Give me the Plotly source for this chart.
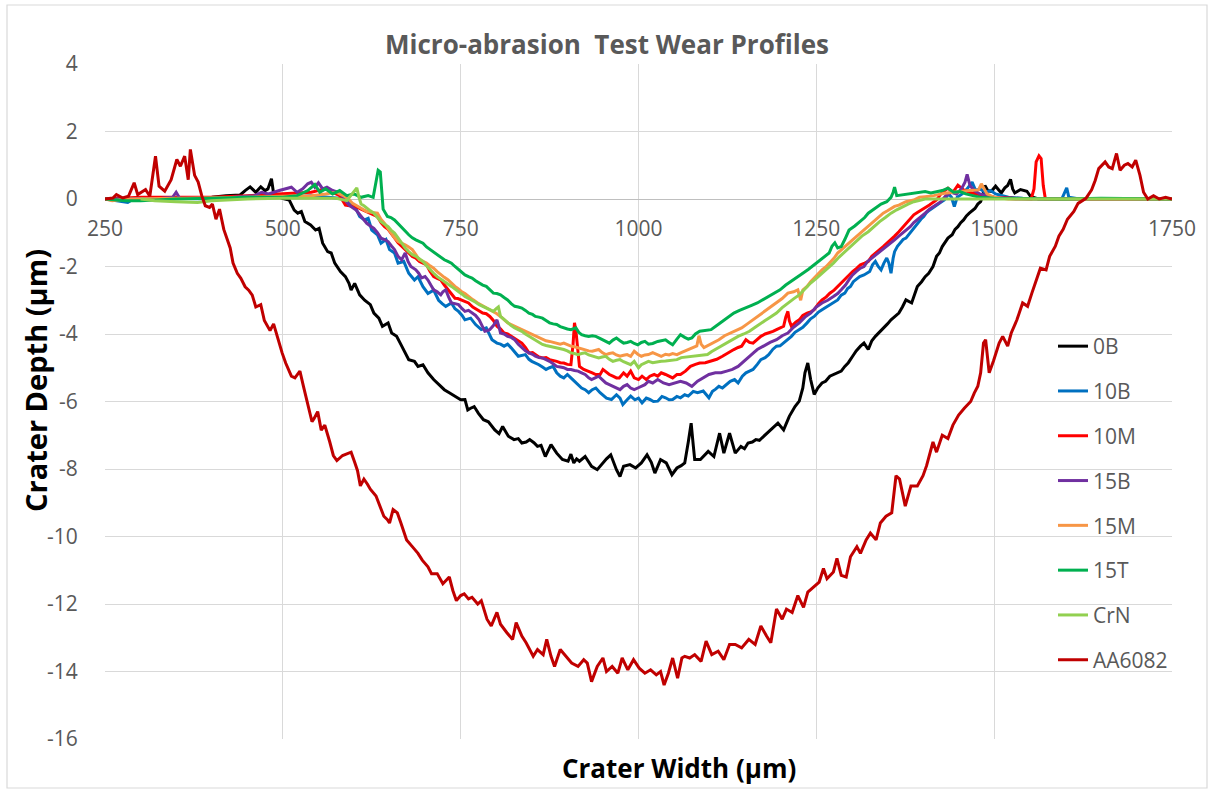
import plotly.graph_objects as go

# Micro-abrasion crater profiles: (width position in µm, depth in µm)
profile_0B = [
    (250, 0.0), (300, 0.02), (350, 0.05), (400, 0.05), (420, 0.1), (440, 0.12), (447, 0.25), (454, 0.36),
    (462, 0.2), (469, 0.36), (475, 0.25), (479, 0.3), (484, 0.6), (487, 0.17), (493, 0.1), (499, 0.02),
    (509, -0.03), (516, -0.33), (521, -0.42), (526, -0.37), (531, -0.67), (539, -0.77), (546, -0.92),
    (551, -0.87), (556, -1.31), (563, -1.56), (568, -1.6), (573, -1.9), (581, -2.15), (588, -2.3),
    (593, -2.5), (596, -2.7), (601, -2.5), (608, -2.84), (615, -3.0), (623, -3.13), (628, -3.38),
    (635, -3.53), (640, -3.77), (648, -3.67), (653, -3.97), (660, -4.07), (665, -4.27), (670, -4.46),
    (677, -4.76), (685, -4.81), (690, -4.96), (697, -4.91), (704, -5.15), (712, -5.35), (719, -5.5),
    (727, -5.65), (734, -5.74), (742, -5.84), (750, -5.95), (756, -5.94), (760, -6.25), (764, -6.2),
    (769, -6.15), (775, -6.35), (782, -6.54), (789, -6.6), (798, -6.84), (804, -6.95), (809, -6.74),
    (817, -7.03), (825, -7.13), (831, -7.1), (836, -7.23), (842, -7.2), (847, -7.13), (853, -7.22),
    (858, -7.33), (863, -7.3), (869, -7.63), (877, -7.28), (885, -7.53), (893, -7.72), (901, -7.77),
    (905, -7.56), (909, -7.82), (913, -7.7), (917, -7.77), (925, -7.63), (934, -7.92), (942, -8.02),
    (950, -7.82), (955, -7.7), (961, -7.58), (969, -8.02), (974, -8.22), (979, -7.92), (988, -7.87),
    (996, -7.97), (1004, -7.82), (1012, -7.58), (1018, -7.8), (1023, -8.12), (1031, -7.72), (1039, -7.82),
    (1047, -8.17), (1054, -7.97), (1060, -7.9), (1065, -7.82), (1070, -7.2), (1074, -6.64), (1077, -7.3),
    (1079, -7.72), (1087, -7.72), (1093, -7.6), (1098, -7.48), (1106, -7.63), (1114, -6.94), (1120, -7.53),
    (1128, -6.94), (1136, -7.53), (1144, -7.33), (1149, -7.4), (1154, -7.23), (1160, -7.2), (1165, -7.13),
    (1170, -7.15), (1176, -7.03), (1181, -6.95), (1187, -6.84), (1196, -6.64), (1204, -6.84), (1212, -6.44),
    (1220, -6.15), (1226, -5.99), (1231, -5.6), (1234, -5.15), (1238, -4.86), (1242, -5.35), (1247, -5.79),
    (1252, -5.6), (1258, -5.45), (1263, -5.4), (1269, -5.25), (1275, -5.2), (1280, -5.15), (1285, -5.1),
    (1290, -4.96), (1295, -4.85), (1301, -4.66), (1306, -4.5), (1312, -4.36), (1317, -4.27), (1323, -4.46),
    (1328, -4.2), (1333, -4.07), (1339, -3.95), (1344, -3.82), (1350, -3.7), (1355, -3.58), (1360, -3.5),
    (1366, -3.38), (1371, -3.2), (1376, -2.99), (1384, -3.08), (1388, -2.8), (1392, -2.59), (1398, -2.45),
    (1403, -2.3), (1408, -2.2), (1414, -2.0), (1419, -1.7), (1423, -1.6), (1427, -1.41), (1431, -1.3),
    (1435, -1.16), (1441, -1.06), (1445, -0.9), (1449, -0.82), (1453, -0.7), (1457, -0.62), (1461, -0.5),
    (1465, -0.42), (1469, -0.35), (1473, -0.28), (1477, -0.15), (1481, -0.08), (1484, 0.1), (1487, 0.4),
    (1491, 0.25), (1496, 0.23), (1502, 0.38), (1510, 0.18), (1515, 0.33), (1519, 0.4), (1523, 0.58),
    (1526, 0.3), (1529, 0.18), (1537, 0.28), (1546, 0.23), (1551, 0.08), (1562, 0.0), (1600, 0.0),
    (1650, 0.0), (1700, 0.0), (1750, 0.0),
]

profile_10B = [
    (250, 0.0), (270, -0.05), (282, -0.1), (290, 0.0), (350, 0.02), (400, 0.0), (450, 0.02), (500, 0.05),
    (540, 0.1), (570, 0.05), (590, 0.0), (598, -0.23), (603, -0.3), (608, -0.52), (615, -0.62), (620, -0.57),
    (625, -0.92), (633, -1.06), (638, -1.31), (645, -1.2), (650, -1.5), (657, -1.6), (662, -1.9), (670, -1.85),
    (677, -2.2), (685, -2.4), (690, -2.3), (697, -2.6), (704, -2.8), (712, -2.7), (719, -3.0), (724, -3.1),
    (729, -3.18), (737, -3.08), (742, -3.25), (747, -3.33), (752, -3.45), (756, -3.58), (764, -3.53),
    (771, -3.72), (779, -3.87), (786, -3.82), (790, -4.0), (794, -4.17), (801, -4.27), (806, -4.3),
    (811, -4.36), (816, -4.3), (821, -4.41), (826, -4.55), (831, -4.66), (841, -4.61), (846, -4.75),
    (850, -4.81), (855, -4.85), (860, -4.91), (865, -4.98), (870, -5.05), (875, -5.0), (880, -4.96),
    (885, -5.15), (890, -5.25), (895, -5.3), (900, -5.2), (905, -5.3), (910, -5.4), (915, -5.5), (920, -5.6),
    (925, -5.65), (930, -5.74), (935, -5.65), (940, -5.6), (946, -5.74), (950, -5.8), (955, -5.9),
    (962, -5.94), (969, -5.8), (974, -5.9), (978, -6.09), (984, -5.95), (989, -5.84), (995, -5.95),
    (1000, -5.9), (1005, -6.04), (1011, -5.9), (1016, -5.94), (1021, -6.0), (1027, -5.99), (1033, -5.85),
    (1038, -5.89), (1043, -5.95), (1048, -5.94), (1054, -5.85), (1059, -5.89), (1065, -5.8), (1070, -5.84),
    (1077, -5.7), (1083, -5.74), (1091, -5.69), (1099, -5.89), (1104, -5.7), (1108, -5.64), (1113, -5.55),
    (1118, -5.6), (1124, -5.5), (1129, -5.4), (1135, -5.35), (1140, -5.45), (1146, -5.25), (1151, -5.15),
    (1156, -5.1), (1161, -5.05), (1167, -4.9), (1172, -4.76), (1178, -4.7), (1183, -4.61), (1189, -4.45),
    (1194, -4.36), (1199, -4.35), (1204, -4.27), (1210, -4.15), (1215, -4.07), (1220, -3.95), (1226, -3.87),
    (1231, -3.8), (1237, -3.67), (1242, -3.55), (1247, -3.48), (1253, -3.35), (1258, -3.28), (1264, -3.2),
    (1269, -3.13), (1275, -3.05), (1280, -2.99), (1285, -2.85), (1290, -2.79), (1294, -2.65), (1298, -2.59),
    (1302, -2.45), (1306, -2.39), (1311, -2.3), (1317, -2.25), (1321, -2.2), (1325, -2.15), (1329, -1.95),
    (1333, -1.85), (1337, -2.0), (1341, -2.1), (1345, -1.9), (1349, -1.75), (1352, -1.9), (1355, -2.2),
    (1358, -1.75), (1360, -1.56), (1364, -1.4), (1368, -1.31), (1372, -1.2), (1376, -1.16), (1380, -1.05),
    (1384, -0.97), (1388, -0.85), (1392, -0.72), (1397, -0.6), (1401, -0.52), (1405, -0.4), (1409, -0.33),
    (1414, -0.25), (1419, -0.18), (1425, -0.1), (1430, -0.03), (1436, 0.15), (1440, 0.05), (1444, -0.22),
    (1448, 0.05), (1455, 0.15), (1462, 0.3), (1469, 0.5), (1474, 0.25), (1480, 0.3), (1487, 0.2),
    (1495, 0.25), (1502, 0.15), (1510, 0.1), (1520, 0.05), (1540, 0.02), (1560, 0.0), (1580, 0.0),
    (1595, 0.0), (1599, 0.2), (1602, 0.33), (1605, 0.05), (1620, 0.0), (1680, 0.0), (1750, 0.0),
]

profile_10M = [
    (250, 0.0), (300, 0.05), (350, 0.05), (400, 0.05), (450, 0.1), (500, 0.15), (540, 0.2), (560, 0.3),
    (570, 0.2), (580, 0.1), (588, -0.18), (603, -0.23), (610, -0.3), (618, -0.37), (625, -0.45), (633, -0.52),
    (638, -0.7), (643, -0.82), (648, -0.9), (652, -1.0), (657, -1.15), (662, -1.3), (667, -1.4), (672, -1.5),
    (677, -1.6), (682, -1.7), (687, -1.75), (692, -1.85), (697, -1.9), (702, -1.95), (707, -2.15), (712, -2.3),
    (717, -2.35), (722, -2.4), (727, -2.55), (732, -2.69), (737, -2.8), (742, -2.94), (746, -2.95),
    (751, -2.99), (756, -3.05), (761, -3.08), (767, -3.2), (774, -3.28), (781, -3.38), (786, -3.4),
    (791, -3.48), (796, -3.6), (801, -3.77), (806, -3.85), (811, -3.97), (816, -4.0), (821, -4.07),
    (826, -4.15), (831, -4.2), (836, -4.27), (841, -4.4), (846, -4.56), (851, -4.55), (855, -4.61),
    (860, -4.68), (865, -4.71), (870, -4.7), (875, -4.76), (880, -4.78), (885, -4.81), (890, -4.85),
    (895, -4.86), (900, -4.9), (905, -4.91), (908, -4.3), (910, -3.67), (912, -3.9), (914, -4.36),
    (917, -4.96), (923, -5.05), (930, -5.1), (935, -5.15), (940, -5.2), (946, -5.2), (950, -5.05),
    (955, -5.15), (959, -5.2), (964, -5.25), (969, -5.3), (973, -5.3), (979, -5.15), (984, -5.25),
    (989, -5.1), (994, -5.3), (1000, -5.35), (1005, -5.25), (1011, -5.35), (1016, -5.25), (1022, -5.2),
    (1027, -5.25), (1032, -5.15), (1038, -5.2), (1043, -5.25), (1048, -5.3), (1054, -5.2), (1059, -5.2),
    (1066, -5.1), (1073, -4.96), (1080, -4.9), (1086, -4.86), (1094, -4.85), (1102, -4.81), (1110, -4.75),
    (1118, -4.66), (1126, -4.55), (1134, -4.46), (1140, -4.4), (1145, -4.36), (1151, -4.17), (1156, -4.25),
    (1161, -4.27), (1167, -4.15), (1172, -4.07), (1178, -4.0), (1183, -3.97), (1189, -3.92), (1194, -3.87),
    (1199, -3.82), (1204, -3.77), (1207, -3.5), (1210, -3.33), (1212, -3.6), (1215, -3.77), (1221, -3.65),
    (1226, -3.58), (1231, -3.45), (1237, -3.38), (1242, -3.35), (1247, -3.28), (1253, -3.1), (1258, -2.99),
    (1264, -2.9), (1269, -2.79), (1275, -2.7), (1280, -2.59), (1285, -2.5), (1290, -2.39), (1296, -2.25),
    (1301, -2.15), (1307, -2.05), (1312, -1.95), (1318, -1.9), (1323, -1.85), (1328, -1.7), (1333, -1.6),
    (1339, -1.5), (1344, -1.41), (1350, -1.3), (1355, -1.21), (1360, -1.1), (1366, -0.97), (1371, -0.85),
    (1376, -0.72), (1382, -0.6), (1387, -0.47), (1392, -0.4), (1398, -0.33), (1403, -0.25), (1409, -0.18),
    (1414, -0.1), (1419, -0.03), (1425, 0.15), (1430, 0.25), (1435, 0.32), (1442, 0.2), (1449, 0.41),
    (1457, 0.27), (1465, 0.2), (1475, 0.15), (1485, 0.1), (1500, 0.05), (1530, 0.02), (1552, 0.0),
    (1556, 0.3), (1559, 1.1), (1563, 1.28), (1566, 1.2), (1569, 0.4), (1572, 0.0), (1600, 0.0),
    (1680, 0.0), (1750, 0.0),
]

profile_15B = [
    (250, 0.0), (330, 0.02), (345, 0.05), (350, 0.2), (355, 0.02), (400, 0.02), (430, 0.05), (460, 0.1),
    (470, 0.2), (480, 0.15), (495, 0.25), (505, 0.3), (512, 0.35), (520, 0.2), (528, 0.3), (535, 0.45),
    (540, 0.5), (545, 0.35), (550, 0.48), (556, 0.3), (562, 0.35), (570, 0.25), (578, 0.2), (585, 0.05),
    (593, -0.18), (603, -0.33), (610, -0.52), (618, -0.72), (623, -0.8), (628, -0.87), (633, -1.0),
    (638, -1.16), (643, -1.2), (648, -1.26), (653, -1.4), (657, -1.5), (662, -1.7), (667, -1.8), (672, -1.6),
    (676, -1.85), (680, -2.0), (684, -2.05), (687, -2.1), (691, -2.2), (695, -2.34), (700, -2.3), (704, -2.4),
    (708, -2.55), (712, -2.69), (717, -2.75), (722, -2.84), (725, -2.75), (729, -2.69), (733, -2.9),
    (737, -3.08), (742, -3.1), (747, -3.13), (752, -3.25), (756, -3.33), (761, -3.3), (766, -3.38),
    (771, -3.45), (776, -3.58), (780, -3.75), (784, -3.92), (788, -3.9), (791, -3.87), (796, -3.75),
    (801, -3.58), (804, -3.8), (806, -3.97), (811, -4.0), (816, -4.07), (821, -4.1), (826, -4.17),
    (831, -4.3), (836, -4.41), (841, -4.5), (846, -4.56), (851, -4.6), (855, -4.66), (860, -4.7),
    (865, -4.71), (870, -4.75), (875, -4.81), (880, -4.88), (885, -4.96), (890, -4.98), (895, -5.0),
    (900, -5.05), (905, -5.05), (910, -5.08), (915, -5.1), (920, -5.15), (925, -5.2), (930, -5.3),
    (934, -5.35), (939, -5.3), (944, -5.25), (949, -5.35), (954, -5.45), (959, -5.5), (964, -5.55),
    (969, -5.6), (974, -5.65), (979, -5.55), (984, -5.5), (989, -5.6), (994, -5.65), (999, -5.6),
    (1004, -5.55), (1009, -5.5), (1014, -5.4), (1020, -5.45), (1027, -5.35), (1035, -5.45), (1043, -5.5),
    (1051, -5.45), (1059, -5.4), (1067, -5.45), (1075, -5.55), (1083, -5.4), (1091, -5.3), (1099, -5.2),
    (1108, -5.15), (1116, -5.15), (1124, -5.1), (1132, -5.05), (1140, -4.96), (1148, -4.8), (1156, -4.66),
    (1162, -4.55), (1167, -4.46), (1172, -4.4), (1177, -4.36), (1185, -4.25), (1194, -4.17), (1202, -4.05),
    (1210, -3.97), (1218, -3.8), (1226, -3.67), (1234, -3.5), (1242, -3.38), (1250, -3.2), (1258, -3.08),
    (1266, -3.0), (1274, -2.89), (1280, -2.8), (1285, -2.69), (1291, -2.55), (1296, -2.39), (1301, -2.25),
    (1306, -2.15), (1312, -2.05), (1317, -2.0), (1322, -1.85), (1328, -1.75), (1334, -1.65), (1339, -1.56),
    (1344, -1.5), (1349, -1.41), (1355, -1.3), (1360, -1.21), (1366, -1.1), (1371, -1.01), (1376, -0.9),
    (1382, -0.82), (1387, -0.7), (1392, -0.62), (1398, -0.5), (1403, -0.42), (1409, -0.3), (1414, -0.23),
    (1420, -0.15), (1425, -0.08), (1432, 0.1), (1440, 0.2), (1447, 0.15), (1454, 0.3), (1459, 0.5),
    (1462, 0.73), (1466, 0.4), (1472, 0.25), (1480, 0.15), (1490, 0.1), (1500, 0.05), (1530, 0.0),
    (1600, 0.0), (1750, 0.0),
]

profile_15M = [
    (250, 0.0), (260, -0.05), (280, 0.0), (350, 0.02), (400, 0.02), (450, 0.05), (500, 0.08), (540, 0.1),
    (560, 0.15), (575, 0.2), (585, 0.1), (592, 0.0), (598, -0.13), (608, -0.25), (618, -0.37), (626, -0.4),
    (633, -0.42), (638, -0.6), (643, -0.72), (648, -0.88), (652, -1.01), (657, -1.15), (662, -1.26),
    (667, -1.3), (672, -1.36), (677, -1.42), (682, -1.5), (687, -1.65), (692, -1.8), (697, -1.85),
    (702, -1.9), (707, -1.98), (712, -2.05), (717, -2.15), (722, -2.25), (727, -2.32), (732, -2.39),
    (737, -2.5), (742, -2.59), (746, -2.65), (751, -2.74), (756, -2.8), (761, -2.89), (767, -2.98),
    (774, -3.08), (780, -3.15), (786, -3.23), (791, -3.28), (796, -3.33), (801, -3.4), (806, -3.48),
    (811, -3.58), (816, -3.67), (821, -3.72), (826, -3.77), (831, -3.82), (836, -3.87), (841, -3.92),
    (846, -3.97), (851, -4.02), (855, -4.07), (860, -4.12), (865, -4.17), (870, -4.2), (875, -4.22),
    (880, -4.25), (885, -4.27), (890, -4.3), (895, -4.27), (900, -4.32), (905, -4.36), (910, -4.38),
    (915, -4.41), (920, -4.45), (925, -4.46), (930, -4.5), (935, -4.51), (940, -4.48), (944, -4.46),
    (949, -4.55), (954, -4.61), (959, -4.58), (964, -4.56), (969, -4.62), (974, -4.66), (979, -4.63),
    (984, -4.61), (989, -4.66), (994, -4.51), (999, -4.6), (1004, -4.66), (1009, -4.62), (1014, -4.61),
    (1020, -4.55), (1026, -4.6), (1032, -4.66), (1038, -4.6), (1043, -4.62), (1048, -4.58), (1054, -4.61),
    (1060, -4.55), (1065, -4.5), (1070, -4.46), (1076, -4.4), (1082, -4.35), (1085, -4.05), (1088, -4.3),
    (1092, -4.4), (1097, -4.35), (1105, -4.25), (1113, -4.17), (1121, -4.05), (1129, -3.97), (1137, -3.9),
    (1145, -3.82), (1153, -3.7), (1161, -3.58), (1169, -3.45), (1177, -3.33), (1185, -3.2), (1194, -3.08),
    (1202, -2.95), (1210, -2.79), (1218, -2.75), (1224, -2.69), (1228, -3.0), (1231, -2.7), (1237, -2.59),
    (1242, -2.45), (1247, -2.34), (1253, -2.2), (1258, -2.1), (1264, -2.0), (1269, -1.9), (1275, -1.75),
    (1280, -1.6), (1285, -1.5), (1290, -1.41), (1296, -1.3), (1301, -1.21), (1307, -1.1), (1312, -1.01),
    (1318, -0.9), (1323, -0.82), (1328, -0.72), (1333, -0.62), (1339, -0.52), (1344, -0.42), (1350, -0.35),
    (1355, -0.28), (1360, -0.22), (1366, -0.18), (1371, -0.12), (1376, -0.08), (1387, -0.03), (1395, 0.05),
    (1403, 0.07), (1415, 0.1), (1430, 0.17), (1440, 0.2), (1452, 0.22), (1465, 0.25), (1478, 0.27),
    (1482, 0.45), (1485, 0.35), (1490, 0.15), (1500, 0.05), (1520, 0.0), (1600, 0.0), (1750, 0.0),
]

profile_15T = [
    (250, 0.0), (280, -0.05), (300, -0.05), (350, 0.0), (400, 0.02), (450, 0.05), (500, 0.05), (520, 0.1),
    (535, 0.25), (545, 0.43), (552, 0.2), (560, 0.3), (570, 0.15), (580, 0.25), (590, 0.1), (600, 0.15),
    (610, 0.05), (620, 0.1), (627, 0.05), (631, 0.5), (634, 0.85), (637, 0.8), (639, 0.2), (641, -0.3),
    (647, -0.52), (652, -0.55), (657, -0.62), (662, -0.72), (667, -0.82), (672, -0.95), (677, -1.06),
    (682, -1.15), (687, -1.21), (692, -1.25), (697, -1.31), (702, -1.42), (707, -1.5), (712, -1.58),
    (717, -1.65), (722, -1.72), (727, -1.8), (732, -1.85), (737, -1.9), (742, -2.0), (747, -2.1),
    (752, -2.18), (756, -2.25), (761, -2.3), (766, -2.34), (771, -2.42), (776, -2.49), (781, -2.55),
    (786, -2.59), (791, -2.7), (796, -2.79), (801, -2.8), (806, -2.84), (811, -2.92), (816, -2.99),
    (821, -3.1), (826, -3.18), (831, -3.2), (836, -3.23), (841, -3.3), (846, -3.38), (851, -3.42),
    (855, -3.48), (860, -3.5), (865, -3.53), (870, -3.6), (875, -3.67), (880, -3.7), (885, -3.72),
    (890, -3.78), (895, -3.82), (900, -3.85), (905, -3.87), (912, -3.82), (916, -3.95), (920, -4.02),
    (925, -4.05), (930, -4.07), (935, -4.05), (940, -4.07), (945, -4.12), (950, -4.17), (955, -4.22),
    (959, -4.27), (964, -4.18), (969, -4.12), (974, -4.2), (979, -4.27), (984, -4.25), (989, -4.22),
    (994, -4.28), (999, -4.32), (1004, -4.25), (1009, -4.22), (1014, -4.3), (1020, -4.28), (1027, -4.22),
    (1033, -4.2), (1038, -4.17), (1043, -4.25), (1048, -4.32), (1054, -4.15), (1059, -4.02), (1065, -4.1),
    (1070, -4.15), (1075, -4.12), (1080, -4.0), (1086, -3.92), (1094, -3.9), (1102, -3.87), (1110, -3.75),
    (1118, -3.63), (1126, -3.5), (1134, -3.38), (1142, -3.3), (1151, -3.23), (1159, -3.15), (1167, -3.08),
    (1175, -2.98), (1183, -2.89), (1191, -2.8), (1199, -2.69), (1207, -2.55), (1215, -2.44), (1223, -2.32),
    (1231, -2.2), (1239, -2.08), (1247, -1.95), (1255, -1.82), (1263, -1.7), (1268, -1.6), (1272, -1.4),
    (1276, -1.3), (1280, -1.45), (1285, -1.41), (1290, -1.2), (1296, -0.92), (1304, -0.8), (1312, -0.67),
    (1318, -0.55), (1323, -0.42), (1328, -0.35), (1333, -0.28), (1341, -0.15), (1349, -0.08), (1355, 0.05),
    (1358, 0.2), (1360, 0.35), (1363, 0.1), (1371, 0.12), (1379, 0.15), (1387, 0.17), (1395, 0.2),
    (1403, 0.22), (1411, 0.18), (1419, 0.22), (1427, 0.25), (1435, 0.32), (1443, 0.2), (1452, 0.22),
    (1460, 0.15), (1470, 0.1), (1480, 0.05), (1500, 0.02), (1550, 0.0), (1600, 0.0), (1650, 0.02),
    (1700, 0.0), (1750, 0.0),
]

profile_CrN = [
    (300, 0.0), (320, -0.05), (350, -0.08), (380, -0.1), (400, -0.05), (450, 0.0), (500, 0.02), (550, 0.03),
    (575, 0.02), (590, -0.05), (596, 0.1), (600, 0.2), (604, 0.33), (607, 0.05), (610, -0.15), (614, -0.2),
    (618, -0.28), (623, -0.35), (628, -0.42), (633, -0.55), (638, -0.67), (643, -0.75), (648, -0.82),
    (652, -0.92), (657, -1.01), (662, -1.15), (667, -1.31), (672, -1.45), (677, -1.56), (682, -1.65),
    (687, -1.7), (692, -1.78), (697, -1.85), (702, -1.98), (707, -2.1), (712, -2.2), (717, -2.3),
    (722, -2.38), (727, -2.44), (732, -2.52), (737, -2.59), (742, -2.66), (747, -2.74), (752, -2.82),
    (756, -2.89), (761, -2.94), (766, -2.99), (771, -3.06), (776, -3.13), (781, -3.18), (786, -3.23),
    (791, -3.28), (796, -3.33), (800, -3.25), (803, -3.2), (806, -3.48), (811, -3.58), (816, -3.67),
    (821, -3.75), (826, -3.82), (831, -3.87), (836, -3.92), (841, -4.0), (846, -4.07), (851, -4.12),
    (855, -4.17), (860, -4.25), (865, -4.31), (870, -4.34), (875, -4.36), (880, -4.38), (885, -4.41),
    (890, -4.43), (895, -4.46), (900, -4.5), (905, -4.56), (910, -4.58), (915, -4.61), (920, -4.58),
    (925, -4.56), (930, -4.62), (935, -4.66), (940, -4.7), (944, -4.71), (949, -4.68), (954, -4.66),
    (959, -4.75), (964, -4.81), (969, -4.78), (974, -4.76), (979, -4.82), (984, -4.86), (989, -4.91),
    (994, -4.81), (1000, -5.0), (1004, -4.91), (1009, -4.85), (1014, -4.81), (1020, -4.85), (1026, -4.82),
    (1032, -4.81), (1038, -4.8), (1046, -4.78), (1054, -4.76), (1060, -4.7), (1068, -4.68), (1075, -4.66),
    (1083, -4.64), (1090, -4.62), (1097, -4.61), (1103, -4.52), (1108, -4.46), (1116, -4.36), (1124, -4.27),
    (1132, -4.17), (1140, -4.07), (1148, -4.0), (1156, -3.92), (1164, -3.8), (1172, -3.67), (1178, -3.6),
    (1183, -3.53), (1189, -3.45), (1194, -3.38), (1202, -3.22), (1210, -3.08), (1218, -2.96), (1226, -2.84),
    (1234, -2.66), (1242, -2.49), (1250, -2.35), (1258, -2.2), (1266, -2.05), (1274, -1.9), (1282, -1.72),
    (1290, -1.56), (1298, -1.4), (1306, -1.26), (1314, -1.1), (1323, -0.97), (1331, -0.82), (1339, -0.67),
    (1347, -0.55), (1355, -0.42), (1363, -0.32), (1371, -0.23), (1379, -0.15), (1387, -0.08), (1395, -0.03),
    (1403, 0.0), (1450, 0.0), (1500, 0.0), (1550, 0.0), (1600, 0.0), (1650, 0.02), (1700, 0.0), (1750, 0.0),
]

profile_AA6082 = [
    (250, 0.0), (261, 0.03), (266, 0.13), (275, 0.03), (283, 0.08), (291, 0.48), (296, 0.13), (307, 0.28),
    (313, 0.08), (321, 1.27), (326, 0.38), (334, 0.23), (343, 0.57), (351, 1.17), (356, 0.97), (362, 1.27),
    (367, 0.57), (370, 1.47), (376, 0.7), (381, 0.5), (386, 0.1), (391, -0.2), (397, -0.25), (401, -0.15),
    (406, -0.6), (411, -0.3), (417, -0.9), (422, -1.2), (426, -1.45), (430, -1.9), (436, -2.2), (441, -2.35),
    (447, -2.6), (452, -2.7), (457, -2.85), (462, -3.2), (469, -3.13), (474, -3.6), (482, -3.9), (487, -3.7),
    (492, -4.07), (499, -4.56), (504, -4.86), (512, -5.25), (517, -5.3), (524, -5.1), (529, -5.55),
    (537, -6.2), (541, -6.6), (544, -6.5), (549, -6.3), (554, -6.85), (559, -6.7), (566, -7.2), (571, -7.6),
    (576, -7.75), (584, -7.6), (590, -7.55), (596, -7.5), (601, -7.8), (605, -8.05), (609, -8.5), (614, -8.3),
    (619, -8.45), (623, -8.6), (631, -8.8), (636, -9.1), (642, -9.4), (647, -9.5), (650, -9.6), (655, -9.2),
    (661, -9.3), (666, -9.6), (674, -10.1), (682, -10.3), (690, -10.5), (696, -10.7), (704, -10.9),
    (709, -11.1), (717, -11.1), (725, -11.4), (734, -11.2), (739, -11.6), (744, -11.9), (750, -11.75),
    (755, -11.7), (761, -11.85), (766, -11.8), (774, -12.0), (779, -11.9), (787, -12.45), (793, -12.65),
    (801, -12.25), (806, -12.6), (815, -12.85), (823, -13.05), (828, -12.55), (836, -12.95), (842, -13.15),
    (852, -13.55), (858, -13.35), (866, -13.5), (871, -13.05), (877, -13.55), (882, -13.85), (890, -13.35),
    (898, -13.55), (906, -13.75), (915, -13.85), (923, -13.65), (928, -13.75), (934, -14.3), (942, -13.85),
    (950, -13.6), (955, -14.0), (963, -13.85), (971, -14.05), (977, -13.6), (985, -13.95), (993, -13.65),
    (1001, -13.9), (1009, -14.05), (1017, -13.95), (1025, -14.1), (1031, -14.0), (1036, -14.4),
    (1042, -14.05), (1048, -13.6), (1055, -14.2), (1061, -13.6), (1065, -13.55), (1072, -13.6), (1079, -13.5),
    (1088, -13.7), (1095, -13.1), (1103, -13.5), (1112, -13.4), (1120, -13.65), (1128, -13.2), (1136, -13.2),
    (1145, -13.3), (1155, -13.05), (1164, -13.2), (1172, -12.65), (1180, -12.95), (1186, -13.15),
    (1194, -12.15), (1202, -12.45), (1208, -12.15), (1216, -12.25), (1224, -11.75), (1232, -12.1),
    (1238, -11.65), (1246, -11.5), (1254, -11.35), (1260, -10.95), (1265, -11.25), (1274, -11.05),
    (1279, -10.65), (1285, -11.15), (1292, -11.2), (1298, -10.6), (1307, -10.3), (1312, -10.5), (1320, -10.1),
    (1326, -9.9), (1334, -10.1), (1340, -9.6), (1348, -9.4), (1356, -9.3), (1362, -8.2), (1367, -8.3),
    (1375, -9.1), (1383, -8.5), (1392, -8.5), (1400, -8.2), (1405, -7.9), (1414, -7.2), (1419, -7.5),
    (1427, -7.0), (1435, -7.1), (1442, -6.7), (1450, -6.4), (1458, -6.2), (1467, -6.0), (1472, -5.75),
    (1477, -5.55), (1481, -5.15), (1485, -4.27), (1488, -4.17), (1493, -5.15), (1499, -4.8), (1507, -4.27),
    (1512, -4.07), (1519, -4.36), (1524, -3.97), (1532, -3.58), (1540, -3.08), (1547, -3.18), (1553, -2.79),
    (1559, -2.4), (1565, -2.05), (1573, -2.1), (1578, -1.7), (1586, -1.4), (1591, -1.1), (1597, -0.9),
    (1603, -0.6), (1612, -0.37), (1618, -0.13), (1629, 0.02), (1637, 0.27), (1642, 0.55), (1647, 0.9),
    (1656, 1.1), (1661, 0.95), (1666, 0.9), (1672, 1.35), (1677, 0.85), (1683, 1.0), (1688, 1.05),
    (1694, 0.95), (1699, 1.15), (1705, 0.7), (1710, 0.2), (1716, 0.0), (1724, 0.1), (1732, 0.0),
    (1741, 0.05), (1750, 0.0),
]

series_names = ["0B", "10B", "10M", "15B", "15M", "15T", "CrN", "AA6082"]
series_profiles = [profile_0B, profile_10B, profile_10M, profile_15B,
                   profile_15M, profile_15T, profile_CrN, profile_AA6082]
series_colors = ["#000000", "#0070C0", "#FF0000", "#7030A0",
                 "#F79646", "#00B050", "#92D050", "#C00000"]

x_ticks = [250, 500, 750, 1000, 1250, 1500, 1750]
y_ticks = [4, 2, 0, -2, -4, -6, -8, -10, -12, -14, -16]

FONT = "'Open Sans', Lato, sans-serif"
GREY_TEXT = "#595959"
GRID = "#d9d9d9"

fig = go.Figure()
for name, prof, color in zip(series_names, series_profiles, series_colors):
    fig.add_trace(go.Scatter(
        x=[p[0] for p in prof],
        y=[p[1] for p in prof],
        mode="lines",
        name=name,
        legendgroup=name,
        line=dict(color=color, width=3),
    ))

W, H = 1214, 791
L, R, T, B = 105, 42, 64, 52
plot_w, plot_h = W - L - R, H - T - B

def px_x(px):
    return (px - L) / plot_w

def px_y(py):
    return (H - B - py) / plot_h

fig.update_layout(
    width=W, height=H,
    margin=dict(l=L, r=R, t=T, b=B, autoexpand=False),
    paper_bgcolor="white",
    plot_bgcolor="white",
    font=dict(family=FONT, color=GREY_TEXT, size=20),
    title=dict(
        text="<b>Micro-abrasion  Test Wear Profiles</b>",
        x=0.5, xanchor="center", y=1 - 45 / H, yanchor="middle",
        font=dict(family=FONT, size=26, color=GREY_TEXT),
    ),
    showlegend=True,
    legend=dict(
        x=px_x(1053), xanchor="left",
        y=px_y(326), yanchor="top",
        bgcolor="rgba(0,0,0,0)",
        font=dict(family=FONT, size=21, color=GREY_TEXT),
        tracegroupgap=14.5,
        itemclick=False, itemdoubleclick=False,
    ),
    xaxis=dict(
        range=[250, 1750],
        tickvals=x_ticks,
        ticktext=[str(v) for v in x_ticks],
        showgrid=True, gridcolor=GRID, gridwidth=1,
        zeroline=False, showline=False,
        anchor="free", position=px_y(199),
        ticks="outside", ticklen=0, tickcolor="rgba(0,0,0,0)",
        ticklabelstandoff=11,
        tickfont=dict(family=FONT, size=21, color=GREY_TEXT),
    ),
    yaxis=dict(
        range=[-16, 4],
        tickvals=y_ticks,
        ticktext=[str(v) for v in y_ticks],
        showgrid=True, gridcolor=GRID, gridwidth=1,
        zeroline=True, zerolinecolor="#bfbfbf", zerolinewidth=1.3,
        showline=False,
        ticks="outside", ticklen=0, tickcolor="rgba(0,0,0,0)",
        ticklabelstandoff=22,
        tickfont=dict(family=FONT, size=21, color=GREY_TEXT),
    ),
    annotations=[
        dict(text="<b>Crater Width (µm)</b>", xref="paper", yref="paper",
             x=px_x(679), y=px_y(768), xanchor="center", yanchor="middle",
             showarrow=False, font=dict(family=FONT, size=26, color="#000000")),
        dict(text="<b>Crater Depth (µm)</b>", xref="paper", yref="paper",
             x=px_x(35), y=px_y(381), xanchor="center", yanchor="middle",
             textangle=-90, showarrow=False,
             font=dict(family=FONT, size=29, color="#000000")),
    ],
    shapes=[
        dict(type="rect", xref="paper", yref="paper",
             x0=px_x(7), x1=px_x(1207), y0=px_y(788), y1=px_y(5),
             line=dict(color="#d9d9d9", width=1.2), fillcolor="rgba(0,0,0,0)",
             layer="below"),
    ],
)

fig.write_html("out.html")
